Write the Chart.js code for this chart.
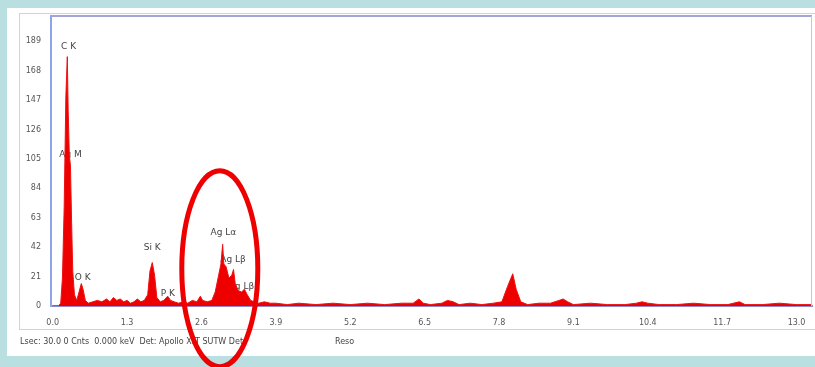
<!DOCTYPE html>
<html>
<head>
<meta charset="utf-8">
<script src="https://cdn.jsdelivr.net/npm/chart.js@4.4.1/dist/chart.umd.min.js"></script>
<style>
  html, body { margin: 0; padding: 0; background: #b9dfe0; }
  #wrap { position: relative; width: 815px; height: 367px; }
  canvas { display: block; }
</style>
</head>
<body>
<div id="wrap"><canvas id="spec" width="815" height="367"></canvas></div>
<script>
// EDS spectrum: energy (keV) and counts
const energy = [
  0.00, 0.10, 0.14, 0.17, 0.20, 0.23, 0.255, 0.27, 0.29, 0.31, 0.33, 0.35, 0.38, 0.42, 0.46, 0.50, 0.53, 0.57,
  0.62, 0.70, 0.78, 0.86, 0.94, 1.00, 1.06, 1.12, 1.18, 1.24, 1.30, 1.36, 1.42, 1.48, 1.54, 1.60,
  1.66, 1.70, 1.74, 1.78, 1.82, 1.88, 1.94, 2.01, 2.06, 2.12, 2.20, 2.28, 2.36, 2.44, 2.52, 2.58,
  2.62, 2.70, 2.78, 2.84, 2.90, 2.94, 2.97, 2.99, 3.03, 3.08, 3.13, 3.16, 3.19, 3.24, 3.30, 3.35,
  3.40, 3.46, 3.52, 3.60, 3.70, 3.80, 3.90, 4.10, 4.30, 4.60, 4.90, 5.20, 5.50, 5.80, 6.10, 6.30,
  6.40, 6.48, 6.60, 6.80, 6.90, 7.00, 7.10, 7.30, 7.50, 7.70, 7.85, 7.95, 8.04, 8.10, 8.18, 8.30,
  8.50, 8.70, 8.85, 8.92, 9.00, 9.10, 9.40, 9.70, 10.00, 10.20, 10.30, 10.40, 10.60, 10.90, 11.20,
  11.50, 11.80, 12.00, 12.10, 12.40, 12.70, 13.00, 13.27
];
const counts = [
  0, 0, 2, 20, 70, 150, 178, 140, 108, 100, 60, 25, 8, 4, 10, 16, 12, 4,
  2, 3, 4, 3, 5, 3, 6, 4, 5, 3, 4, 2, 3, 5, 3, 4,
  8, 25, 31, 22, 6, 3, 4, 7, 4, 3, 2, 3, 2, 4, 3, 7,
  4, 3, 4, 10, 22, 30, 44, 30, 28, 20, 22, 26, 16, 11, 10, 12,
  8, 4, 3, 2, 3, 2, 2, 1, 2, 1, 2, 1, 2, 1, 2, 2,
  5, 2, 1, 2, 4, 3, 1, 2, 1, 2, 3, 14, 23, 12, 3, 1,
  2, 2, 4, 5, 3, 1, 2, 1, 1, 2, 3, 2, 1, 1, 2,
  1, 1, 3, 1, 1, 2, 1, 1
];

// axis ticks
const xTicks = [0.0, 1.3, 2.6, 3.9, 5.2, 6.5, 7.8, 9.1, 10.4, 11.7, 13.0];
const yTicks = [0, 21, 42, 63, 84, 105, 126, 147, 168, 189];

// identified lines: name, line energy (keV), label height (counts)
const peakNames = ['C K', 'Ag M', 'O K', 'Si K', 'P K', 'Ag L\u03b1', 'Ag L\u03b2', 'Ag L\u03b22'];
const peakEnergy = [0.277, 0.311, 0.525, 1.740, 2.013, 2.984, 3.151, 3.348];
const peakLabelCounts = [185, 108, 20, 42, 9, 52, 33, 14];

const footerText = 'Lsec: 30.0 0 Cnts  0.000 keV  Det: Apollo XLT SUTW Det';
const footerRight = 'Reso';

const points = energy.map((e, i) => ({ x: e, y: counts[i] }));

const framePlugin = {
  id: 'frame',
  beforeDraw(chart) {
    const ctx = chart.ctx;
    const a = chart.chartArea;
    ctx.save();
    ctx.fillStyle = '#b9dfe0';
    ctx.fillRect(0, 0, chart.width, chart.height);
    ctx.fillStyle = '#ffffff';
    ctx.fillRect(7, 8, chart.width - 7, 348);
    // inner panel frame
    ctx.strokeStyle = '#d2d2d8';
    ctx.lineWidth = 1;
    ctx.strokeRect(19.5, 13.5, chart.width, 316);
    ctx.fillStyle = '#ffffff';
    ctx.fillRect(a.left, a.top, a.right - a.left, a.bottom - a.top);
    // footer
    ctx.fillStyle = '#444';
    ctx.font = '8px "DejaVu Sans", sans-serif';
    ctx.textBaseline = 'middle';
    ctx.fillText(footerText, 20, 342);
    ctx.fillText(footerRight, 335, 342);
    ctx.restore();
  },
  beforeDatasetsDraw(chart) {
    const ctx = chart.ctx;
    const xs = chart.scales.x, ys = chart.scales.y;
    ctx.save();
    // peak labels sit behind the spectrum
    ctx.fillStyle = '#444';
    ctx.font = '9px "DejaVu Sans", sans-serif';
    ctx.textAlign = 'center';
    ctx.textBaseline = 'middle';
    peakNames.forEach((name, i) => {
      ctx.fillText(name, xs.getPixelForValue(peakEnergy[i]), ys.getPixelForValue(peakLabelCounts[i]));
    });
    ctx.restore();
  },
  afterDraw(chart) {
    const ctx = chart.ctx;
    const a = chart.chartArea;
    const xs = chart.scales.x, ys = chart.scales.y;
    ctx.save();
    // top and right border of the plot
    ctx.strokeStyle = '#a4a4d8';
    ctx.lineWidth = 2;
    ctx.beginPath();
    ctx.moveTo(a.left, a.top);
    ctx.lineTo(a.right, a.top);
    ctx.stroke();
    ctx.lineWidth = 1;
    ctx.strokeStyle = '#c4c4e6';
    ctx.beginPath();
    ctx.moveTo(a.right - 0.5, a.top);
    ctx.lineTo(a.right - 0.5, a.bottom);
    ctx.stroke();
    // highlight ring around the Ag L family
    const cx = xs.getPixelForValue(2.92);
    const cy = ys.getPixelForValue(26.6);
    ctx.strokeStyle = '#ee0000';
    ctx.lineWidth = 5;
    ctx.beginPath();
    ctx.ellipse(cx, cy, 38, 98, 0, 0, Math.PI * 2);
    ctx.stroke();
    ctx.restore();
  }
};

new Chart(document.getElementById('spec'), {
  type: 'line',
  data: {
    datasets: [{
      data: points,
      borderColor: '#ee1111',
      backgroundColor: '#ee0000',
      borderWidth: 1,
      fill: 'origin',
      pointRadius: 0,
      tension: 0
    }]
  },
  options: {
    responsive: false,
    animation: false,
    events: [],
    layout: { padding: { left: 0, top: 16, right: 3, bottom: 37 } },
    plugins: { legend: { display: false }, tooltip: { enabled: false } },
    scales: {
      x: {
        type: 'linear',
        min: -0.03,
        max: 13.27,
        grid: { display: false },
        border: { display: true, color: '#8c8cd2', width: 2 },
        ticks: {
          font: { size: 8, family: '"DejaVu Sans", sans-serif' },
          color: '#555',
          padding: 4,
          maxRotation: 0,
          autoSkip: false,
          callback: v => v.toFixed(1)
        },
        afterBuildTicks: s => { s.ticks = xTicks.map(v => ({ value: v })); },
        afterFit: s => { s.height = 24; }
      },
      y: {
        min: 0,
        max: 207,
        grid: { display: false },
        border: { display: true, color: '#90a4ea', width: 2 },
        ticks: {
          font: { size: 8, family: '"DejaVu Sans", sans-serif' },
          color: '#555',
          padding: 2
        },
        afterBuildTicks: s => { s.ticks = yTicks.map(v => ({ value: v })); },
        afterFit: s => { s.width = 51; }
      }
    }
  },
  plugins: [framePlugin]
});
</script>
</body>
</html>
